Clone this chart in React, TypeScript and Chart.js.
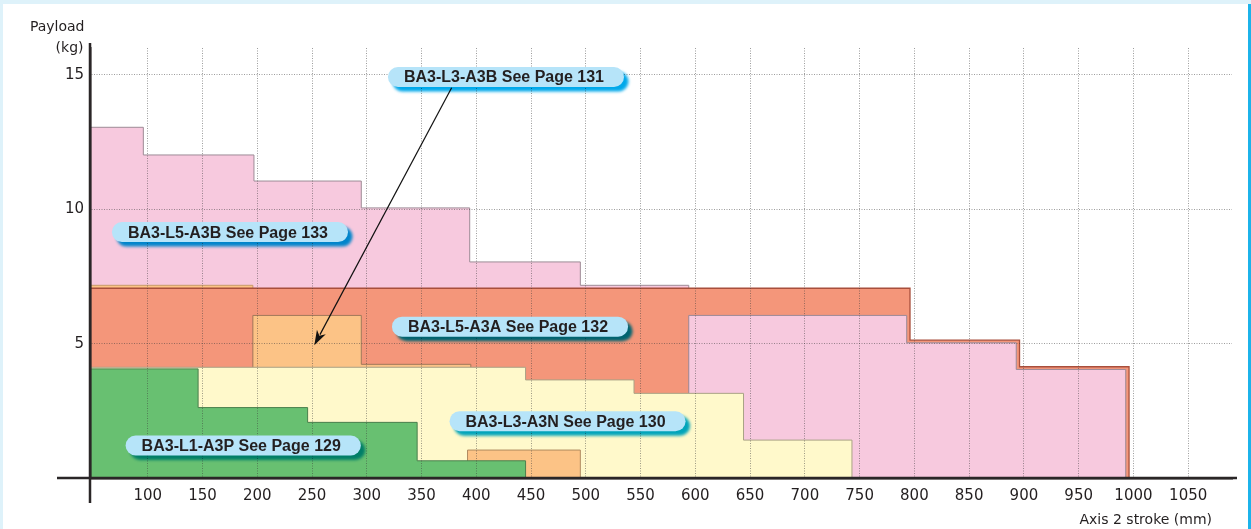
import React, { useEffect, useRef } from 'react';
import { Chart, registerables } from 'chart.js';

Chart.register(...registerables);

// ---------- axes ----------
const X_MIN = 47.3;
const X_MAX = 1090;
const Y_MIN = 0;
const Y_MAX = 16;
const X_TICKS = [100, 150, 200, 250, 300, 350, 400, 450, 500, 550, 600, 650, 700, 750, 800, 850, 900, 950, 1000, 1050];
const Y_TICKS = [5, 10, 15];
const Y_TITLE = ['Payload', '(kg)'];
const X_TITLE = 'Axis 2 stroke (mm)';

// ---------- series (stroke in mm, payload in kg, step-after) ----------
// BA3-L5-A3B, rear part (pink)
const l5a3bRearStroke = [47.3, 96, 197, 295, 394, 495, 594];
const l5a3bRearPayload = [13.05, 12.02, 11.05, 10.05, 8.04, 7.17, 0];
// BA3-L3-A3B, rear strip (peach)
const l3a3bRearStroke = [47.3, 196];
const l3a3bRearPayload = [7.17, 0];
// BA3-L5-A3A (orange)
const l5a3aStroke = [47.3, 796, 896, 996];
const l5a3aPayload = [7.06, 5.13, 4.14, 0];
// BA3-L5-A3B, front part (pink)
const l5a3bFrontStroke = [594, 594, 793, 893, 993];
const l5a3bFrontPayload = [0, 6.05, 5.03, 4.04, 0];
// BA3-L3-A3B, middle part (peach)
const l3a3bMidStroke = [196, 196, 295, 395];
const l3a3bMidPayload = [0, 6.05, 4.23, 0];
// BA3-L3-A3N (yellow)
const l3a3nStroke = [47.3, 445, 544, 644, 743];
const l3a3nPayload = [4.12, 3.65, 3.15, 1.41, 0];
// BA3-L3-A3B, front block (peach)
const l3a3bFrontStroke = [392, 392, 495];
const l3a3bFrontPayload = [0, 1.04, 0];
// BA3-L1-A3P (green)
const l1a3pStroke = [47.3, 146, 246, 346, 445];
const l1a3pPayload = [4.06, 2.62, 2.07, 0.64, 0];

// ---------- callouts ----------
const calloutText = [
  'BA3-L3-A3B See Page 131',
  'BA3-L5-A3B See Page 133',
  'BA3-L5-A3A See Page 132',
  'BA3-L3-A3N See Page 130',
  'BA3-L1-A3P See Page 129',
];
const calloutStroke = [427.1, 175.1, 430.8, 483.3, 187.2];
const calloutPayload = [14.92, 9.15, 5.63, 2.11, 1.21];
const arrowStroke = [377.5, 252.1];
const arrowPayload = [14.52, 4.94];

const PINK = '#f7c9de';
const ORANGE = '#f4967a';
const PEACH = '#fcc386';
const YELLOW = '#fff9cb';
const GREEN = '#68c071';
const INK = '#231f20';

function pts(xs: number[], ys: number[]) {
  return xs.map((x, i) => ({ x, y: ys[i] }));
}

function area(data: { x: number; y: number }[], fill: string, border: string, order: number, bw = 1) {
  return {
    data,
    backgroundColor: fill,
    borderColor: border,
    borderWidth: bw,
    fill: 'origin',
    stepped: 'before',
    pointRadius: 0,
    pointHoverRadius: 0,
    tension: 0,
    order,
  };
}

function roundRect(ctx: CanvasRenderingContext2D, x: number, y: number, w: number, h: number, r: number) {
  ctx.beginPath();
  ctx.moveTo(x + r, y);
  ctx.lineTo(x + w - r, y);
  ctx.arc(x + w - r, y + r, r, -Math.PI / 2, Math.PI / 2);
  ctx.lineTo(x + r, y + h);
  ctx.arc(x + r, y + r, r, Math.PI / 2, (3 * Math.PI) / 2);
  ctx.closePath();
}

const framePlugin = {
  id: 'frame',
  beforeDraw(chart: any) {
    const ctx = chart.ctx as CanvasRenderingContext2D;
    ctx.save();
    ctx.fillStyle = '#def2fa';
    ctx.fillRect(0, 0, chart.width, chart.height);
    ctx.fillStyle = '#ffffff';
    ctx.fillRect(3, 4, chart.width - 6, chart.height - 4);
    ctx.fillStyle = '#1cb3ea';
    ctx.fillRect(chart.width - 3, 4, 3, chart.height - 4);
    ctx.restore();
  },
  afterDraw(chart: any) {
    const ctx = chart.ctx as CanvasRenderingContext2D;
    const { left, right, top, bottom } = chart.chartArea;
    const xs = chart.scales.x;
    const ys = chart.scales.y;
    ctx.save();
    // axis lines (extending past the crossing)
    ctx.strokeStyle = '#2a2627';
    ctx.lineWidth = 2.5;
    ctx.beginPath();
    ctx.moveTo(left, top - 5);
    ctx.lineTo(left, bottom + 25);
    ctx.stroke();
    ctx.beginPath();
    ctx.moveTo(left - 33, bottom);
    ctx.lineTo(right + 5, bottom);
    ctx.stroke();

    // axis titles
    ctx.fillStyle = INK;
    ctx.font = '14px "DejaVu Sans"';
    ctx.textAlign = 'right';
    ctx.textBaseline = 'alphabetic';
    ctx.fillText(Y_TITLE[0], left - 5.5, top - 17.5);
    ctx.fillText(Y_TITLE[1], left - 6.5, top + 4);
    ctx.fillText(X_TITLE, right - 20, bottom + 45.5);

    // arrow
    const ax0 = xs.getPixelForValue(arrowStroke[0]);
    const ay0 = ys.getPixelForValue(arrowPayload[0]);
    const ax1 = xs.getPixelForValue(arrowStroke[1]);
    const ay1 = ys.getPixelForValue(arrowPayload[1]);
    const ang = Math.atan2(ay1 - ay0, ax1 - ax0);
    const hl = 15;
    const hw = 5;
    ctx.strokeStyle = '#111';
    ctx.lineWidth = 1.2;
    ctx.beginPath();
    ctx.moveTo(ax0, ay0);
    ctx.lineTo(ax1 - Math.cos(ang) * hl * 0.8, ay1 - Math.sin(ang) * hl * 0.8);
    ctx.stroke();
    ctx.fillStyle = '#111';
    ctx.beginPath();
    ctx.moveTo(ax1, ay1);
    const bx = ax1 - Math.cos(ang) * hl;
    const by = ay1 - Math.sin(ang) * hl;
    ctx.lineTo(bx + Math.sin(ang) * hw, by - Math.cos(ang) * hw);
    ctx.lineTo(ax1 - Math.cos(ang) * hl * 0.72, ay1 - Math.sin(ang) * hl * 0.72);
    ctx.lineTo(bx - Math.sin(ang) * hw, by + Math.cos(ang) * hw);
    ctx.closePath();
    ctx.fill();

    // callout pills
    ctx.font = 'bold 16px "Liberation Sans", Arial, sans-serif';
    for (let i = 0; i < calloutText.length; i++) {
      const cx = xs.getPixelForValue(calloutStroke[i]);
      const cy = ys.getPixelForValue(calloutPayload[i]);
      const tw = ctx.measureText(calloutText[i]).width;
      const w = tw + 36;
      const h = 20;
      const x = cx - w / 2;
      const y = cy - h / 2;
      // shadow (multiplied onto background)
      ctx.save();
      ctx.globalCompositeOperation = 'multiply';
      ctx.filter = 'blur(1.8px)';
      ctx.fillStyle = '#00a8ea';
      roundRect(ctx, x + 4.5, y + 4.5, w, h, h / 2);
      ctx.fill();
      ctx.restore();
      // pill
      ctx.fillStyle = '#b6e4f9';
      roundRect(ctx, x, y, w, h, h / 2);
      ctx.fill();
      ctx.fillStyle = INK;
      ctx.textAlign = 'center';
      ctx.textBaseline = 'middle';
      ctx.fillText(calloutText[i], cx - 2, cy + 1);
    }
    ctx.restore();
  },
};

export default function App() {
  const ref = useRef<HTMLCanvasElement>(null);

  useEffect(() => {
    if (!ref.current) return;
    const datasets: any[] = [
      area(pts(l5a3bRearStroke, l5a3bRearPayload), PINK, '#9d8b96', 8),
      area(pts(l3a3bRearStroke, l3a3bRearPayload), PEACH, '#c89a6a', 7),
      area(pts(l5a3aStroke, l5a3aPayload), ORANGE, '#a84f3c', 6, 1.3),
      area(pts(l5a3bFrontStroke, l5a3bFrontPayload), PINK, '#9a8a98', 5),
      area(pts(l3a3bMidStroke, l3a3bMidPayload), PEACH, '#a0785a', 4),
      area(pts(l3a3nStroke, l3a3nPayload), YELLOW, '#a9a285', 3),
      area(pts(l3a3bFrontStroke, l3a3bFrontPayload), PEACH, '#b08a60', 2),
      area(pts(l1a3pStroke, l1a3pPayload), GREEN, '#4a7f4d', 1),
    ];
    const chart = new Chart(ref.current, {
      type: 'line',
      data: { datasets },
      plugins: [framePlugin],
      options: {
        responsive: false,
        animation: false,
        events: [],
        layout: { padding: { left: 0, top: 48, right: 19, bottom: 0 } },
        plugins: {
          legend: { display: false },
          tooltip: { enabled: false },
          title: { display: false },
        },
        scales: {
          x: {
            type: 'linear',
            min: X_MIN,
            max: X_MAX,
            afterBuildTicks: (s: any) => {
              s.ticks = X_TICKS.map((v) => ({ value: v }));
            },
            afterFit: (s: any) => {
              s.height = 51;
            },
            grid: { color: 'rgba(60,60,60,0.5)', lineWidth: 1, drawTicks: false, z: 1 },
            border: { display: true, color: '#2a2627', width: 2.5, dash: [1, 1.5], z: 1 },
            ticks: {
              color: INK,
              font: { family: 'DejaVu Sans', size: 15 },
              padding: 9,
              maxRotation: 0,
              autoSkip: false,
              callback: (v: any) => String(v),
            },
          },
          y: {
            type: 'linear',
            min: Y_MIN,
            max: Y_MAX,
            afterBuildTicks: (s: any) => {
              s.ticks = Y_TICKS.map((v) => ({ value: v }));
            },
            afterFit: (s: any) => {
              s.width = 90;
            },
            grid: { color: 'rgba(60,60,60,0.5)', lineWidth: 1, drawTicks: false, z: 1 },
            border: { display: true, color: '#2a2627', width: 2.5, dash: [1, 1.5], z: 1 },
            ticks: {
              color: INK,
              font: { family: 'DejaVu Sans', size: 15 },
              padding: 6,
              callback: (v: any) => String(v),
            },
          },
        },
      } as any,
    });
    return () => chart.destroy();
  }, []);

  return (
    <div style={{ position: 'fixed', left: 0, top: 0, width: 1251, height: 529 }}>
      <canvas ref={ref} width={1251} height={529} style={{ display: 'block', width: 1251, height: 529 }} />
    </div>
  );
}
